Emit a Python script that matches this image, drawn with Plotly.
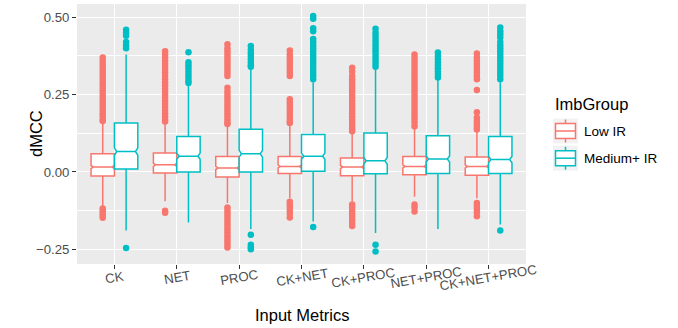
import plotly.graph_objects as go

categories = ["CK", "NET", "PROC", "CK+NET", "CK+PROC", "NET+PROC", "CK+NET+PROC"]
groups = ["Low IR", "Medium+ IR"]

# Box statistics (per category)
low_lf = [-0.110, -0.095, -0.100, -0.085, -0.095, -0.080, -0.085]
low_q1 = [-0.013, -0.003, -0.016, -0.005, -0.012, -0.009, -0.011]
low_med = [0.016, 0.023, 0.013, 0.018, 0.016, 0.018, 0.018]
low_q3 = [0.059, 0.061, 0.050, 0.050, 0.045, 0.050, 0.048]
low_uf = [0.155, 0.158, 0.148, 0.152, 0.125, 0.140, 0.130]
low_notch = [0.005, 0.005, 0.005, 0.005, 0.005, 0.005, 0.005]

med_lf = [-0.189, -0.163, -0.184, -0.160, -0.197, -0.184, -0.170]
med_q1 = [0.010, 0.000, 0.000, 0.002, -0.006, -0.005, -0.005]
med_med = [0.066, 0.051, 0.059, 0.051, 0.036, 0.042, 0.040]
med_q3 = [0.158, 0.115, 0.138, 0.121, 0.126, 0.117, 0.115]
med_uf = [0.380, 0.280, 0.335, 0.290, 0.330, 0.300, 0.290]
med_notch = [0.012, 0.010, 0.011, 0.010, 0.011, 0.010, 0.010]

# Outliers
low_out = [
    [0.37, 0.36, 0.35, 0.34, 0.33, 0.32, 0.31, 0.30, 0.29, 0.28, 0.27, 0.26, 0.25,
     0.24, 0.23, 0.22, 0.21, 0.20, 0.19, 0.18, 0.17, 0.165,
     -0.118, -0.125, -0.132, -0.14, -0.148],
    [0.39, 0.38, 0.37, 0.36, 0.35, 0.34, 0.33, 0.32, 0.31, 0.30, 0.29, 0.28, 0.27,
     0.26, 0.25, 0.24, 0.23, 0.22, 0.21, 0.20, 0.19, 0.18, 0.17, 0.163,
     -0.125, -0.132],
    [0.413, 0.40, 0.39, 0.38, 0.37, 0.36, 0.35, 0.34, 0.33, 0.32, 0.31,
     0.272, 0.26, 0.25, 0.24, 0.23, 0.22, 0.21, 0.20, 0.19, 0.18, 0.17, 0.16, 0.155,
     -0.115, -0.125, -0.135, -0.145, -0.155, -0.165, -0.175, -0.185, -0.195,
     -0.205, -0.215, -0.225, -0.235, -0.244],
    [0.393, 0.38, 0.37, 0.36, 0.35, 0.34, 0.33, 0.32, 0.31,
     0.235, 0.225, 0.215, 0.205, 0.195, 0.185, 0.175, 0.165, 0.158,
     -0.096, -0.105, -0.115, -0.125, -0.135, -0.147],
    [0.337, 0.325, 0.31, 0.30, 0.29, 0.28, 0.27, 0.26, 0.25, 0.24, 0.23, 0.22,
     0.21, 0.20, 0.19, 0.18, 0.17, 0.16, 0.15, 0.14, 0.132,
     -0.105, -0.115, -0.125, -0.135, -0.145, -0.155, -0.165, -0.175],
    [0.38, 0.37, 0.36, 0.35, 0.34, 0.33, 0.32, 0.31, 0.30, 0.29, 0.28, 0.27, 0.26,
     0.25, 0.24, 0.23, 0.22, 0.21, 0.20, 0.19, 0.18, 0.17, 0.16, 0.148,
     -0.105, -0.115, -0.128],
    [0.383, 0.37, 0.36, 0.35, 0.34, 0.33, 0.32, 0.31, 0.30, 0.265, 0.193,
     0.175, 0.165, 0.155, 0.145, 0.137,
     -0.10, -0.11, -0.12, -0.13, -0.143],
]
med_out = [
    [0.46, 0.45, 0.44, 0.42, 0.41, 0.40, -0.246],
    [0.387, 0.355, 0.345, 0.335, 0.325, 0.315, 0.305, 0.295, 0.288],
    [0.407, 0.395, 0.385, 0.375, 0.365, 0.355, 0.345, 0.34,
     -0.203, -0.235, -0.243, -0.25],
    [0.504, 0.495, 0.465, 0.455, 0.43, 0.42, 0.41, 0.40, 0.39, 0.38, 0.37, 0.36,
     0.35, 0.34, 0.33, 0.32, 0.31, 0.30, -0.178],
    [0.463, 0.45, 0.44, 0.43, 0.42, 0.41, 0.40, 0.39, 0.38, 0.37, 0.36, 0.35,
     0.34, -0.235, -0.257],
    [0.386, 0.375, 0.365, 0.355, 0.345, 0.335, 0.325, 0.315, 0.305],
    [0.467, 0.455, 0.445, 0.435, 0.42, 0.41, 0.40, 0.39, 0.38, 0.37, 0.36, 0.35,
     0.34, 0.33, 0.32, 0.31, 0.30, -0.189],
]

y_ticks = [-0.25, 0.00, 0.25, 0.50]
y_tick_text = ["\u22120.25", "0.00", "0.25", "0.50"]

RED = "#F8766D"
TEAL = "#00BFC4"
FONT = "Liberation Sans"

W, H = 678, 328
L, R, T, B = 77, 526, 4, 264


def px2x(px):
    return (px - L) / (R - L)


def py2y(py):
    return (B - py) / (B - T)


fig = go.Figure()
offset = 0.1875
bw = 0.375

series = [
    (groups[0], RED, -offset, low_lf, low_q1, low_med, low_q3, low_uf, low_notch, low_out),
    (groups[1], TEAL, offset, med_lf, med_q1, med_med, med_q3, med_uf, med_notch, med_out),
]

for name, col, off, lf, q1, md, q3, uf, ns, outs in series:
    pos = [i + 1 + off for i in range(len(categories))]
    fig.add_trace(go.Box(
        x=pos, q1=q1, median=md, q3=q3, lowerfence=lf, upperfence=uf,
        notchspan=ns, notched=True, notchwidth=0.1,
        width=bw, whiskerwidth=0, boxpoints=False,
        line=dict(color=col, width=1.5), fillcolor="white",
        name=name, showlegend=False, hoverinfo="skip",
    ))
    ox, oy = [], []
    for i, vals in enumerate(outs):
        ox += [i + 1 + off] * len(vals)
        oy += vals
    fig.add_trace(go.Scatter(
        x=ox, y=oy, mode="markers",
        marker=dict(color=col, size=6.5, line=dict(width=0)),
        showlegend=False, hoverinfo="skip",
    ))

# X tick labels (rotated)
for i, c in enumerate(categories):
    fig.add_annotation(
        x=i + 1, y=py2y(277), xref="x", yref="paper", text=c, showarrow=False,
        textangle=-10, xanchor="center", yanchor="middle",
        font=dict(family=FONT, size=13.2, color="#4D4D4D"),
    )

# Axis titles
fig.add_annotation(x=px2x(301.5), y=py2y(315), xref="paper", yref="paper",
                   text="Input Metrics", showarrow=False, xanchor="center", yanchor="middle",
                   font=dict(family=FONT, size=16.5, color="black"))
fig.add_annotation(x=px2x(36), y=py2y(134), xref="paper", yref="paper",
                   text="dMCC", showarrow=False, textangle=-90, xanchor="center", yanchor="middle",
                   font=dict(family=FONT, size=16.5, color="black"))

# Legend (ggplot style)
fig.add_annotation(x=px2x(553), y=py2y(104), xref="paper", yref="paper",
                   text="ImbGroup", showarrow=False, xanchor="left", yanchor="middle",
                   font=dict(family=FONT, size=16.5, color="black"))
key_tops = [118.5, 145.7]
for (name, col, *_rest), kt in zip(series, key_tops):
    x0, x1 = px2x(553), px2x(578)
    fig.add_shape(type="rect", xref="paper", yref="paper", x0=x0, x1=x1,
                  y0=py2y(kt), y1=py2y(kt + 25), fillcolor="#F2F2F2", line=dict(width=0), layer="above")
    fig.add_shape(type="line", xref="paper", yref="paper", x0=px2x(565.5), x1=px2x(565.5),
                  y0=py2y(kt + 1), y1=py2y(kt + 24), line=dict(color=col, width=1.5), layer="above")
    fig.add_shape(type="rect", xref="paper", yref="paper", x0=px2x(555.5), x1=px2x(575.5),
                  y0=py2y(kt + 5), y1=py2y(kt + 20), fillcolor="white",
                  line=dict(color=col, width=1.5), layer="above")
    fig.add_shape(type="line", xref="paper", yref="paper", x0=px2x(555.5), x1=px2x(575.5),
                  y0=py2y(kt + 12.5), y1=py2y(kt + 12.5), line=dict(color=col, width=1.5), layer="above")
    fig.add_annotation(x=px2x(582), y=py2y(kt + 12.5), xref="paper", yref="paper",
                       text=name, showarrow=False, xanchor="left", yanchor="middle",
                       font=dict(family=FONT, size=13.5, color="black"))

fig.update_layout(
    width=W, height=H,
    margin=dict(l=L, r=W - R, t=T, b=H - B),
    paper_bgcolor="white", plot_bgcolor="#EBEBEB",
    showlegend=False,
    font=dict(family=FONT, color="#4D4D4D"),
    xaxis=dict(
        range=[0.4, 7.6], tickvals=list(range(1, len(categories) + 1)),
        showticklabels=False, ticks="outside", ticklen=4, tickcolor="#333333", tickwidth=1,
        showgrid=True, gridcolor="white", gridwidth=1.2, zeroline=False, showline=False,
    ),
    yaxis=dict(
        range=[-0.2975, 0.543], tickvals=y_ticks, ticktext=y_tick_text,
        ticks="outside", ticklen=4, tickcolor="#333333", tickwidth=1,
        tickfont=dict(family=FONT, size=13.2, color="#4D4D4D"),
        showgrid=True, gridcolor="white", gridwidth=1.2, zeroline=False, showline=False,
        minor=dict(tickvals=[-0.125, 0.125, 0.375], showgrid=True, gridcolor="white",
                   gridwidth=0.6, ticks=""),
    ),
)

fig.write_html("out.html", config={"displayModeBar": False},
               post_script="document.body.style.margin='0';")
